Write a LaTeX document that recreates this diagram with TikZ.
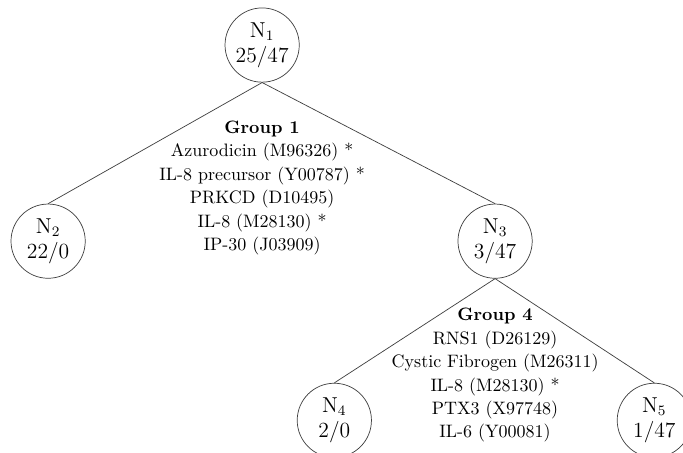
\documentclass[tikz,border=0pt]{standalone}
\usetikzlibrary{positioning}
\begin{document}
\begin{tikzpicture}
    \tikzstyle{line} = [thin, black!75]
    \tikzstyle{node} = [circle, minimum size = 1.45cm, inner sep = 0pt, align = center, font = \large, draw = black!75]
    \tikzstyle{group} = [align = center, font = {\fontsize{10}{13}\selectfont}]
    \useasboundingbox (-5.12,0.88) rectangle (8.22,-7.95);
    \node[node](N1){N$_1$\\25/47};
    \node[node, below of = N1, xshift = -4.18cm, yshift = -2.83cm](N2){N$_2$\\22/0};
    \node[node, below of = N1, xshift = 4.55cm, yshift = -2.83cm](N3){N$_3$\\3/47};
    \node[node, below of = N3, xshift = -3.14cm, yshift = -2.50cm](N4){N$_4$\\2/0};
    \node[node, below of = N3, xshift = 3.11cm, yshift = -2.50cm](N5){N$_5$\\1/47};
    \node[group, below of = N1, yshift = -1.79cm](G1){\textbf{Group 1}\\Azurodicin (M96326) *\\IL-8 precursor (Y00787) *\\PRKCD (D10495)\\IL-8 (M28130) *\\IP-30 (J03909)};
    \node[group, below of = N3, yshift = -1.62cm](G4){\textbf{Group 4}\\RNS1 (D26129)\\Cystic Fibrogen (M26311)\\IL-8 (M28130) *\\PTX3 (X97748)\\IL-6 (Y00081)};
    \draw[line] (N1.south)--(N2.north);
    \draw[line] (N1.south)--(N3.north);
    \draw[line] (N3.south)--(N4.north);
    \draw[line] (N3.south)--(N5.north);
\end{tikzpicture}
\end{document}
